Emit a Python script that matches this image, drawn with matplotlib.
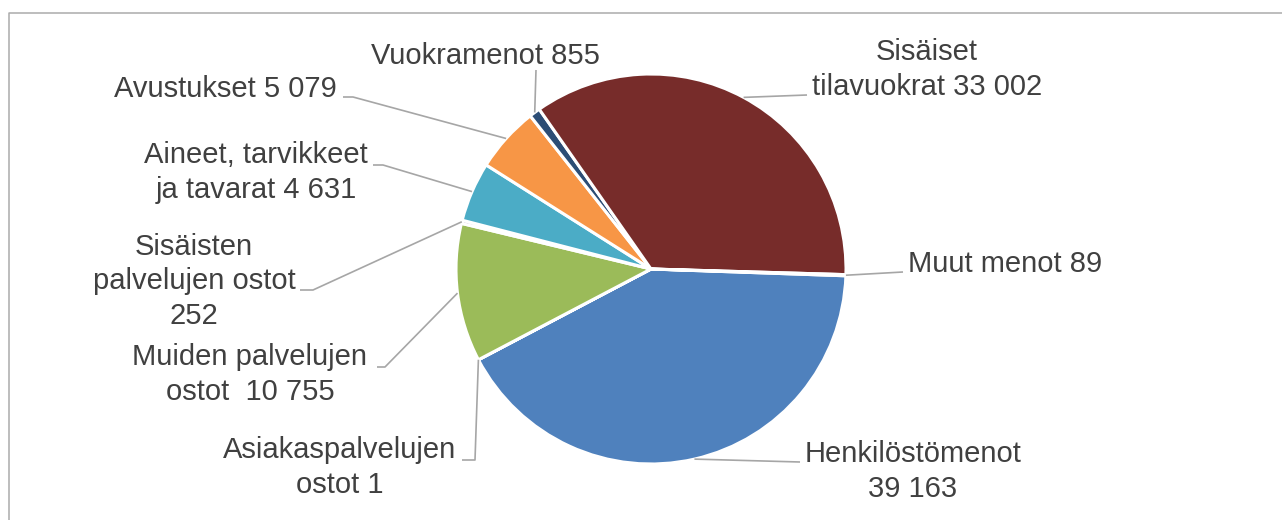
import numpy as np
import matplotlib
matplotlib.use("Agg")
from matplotlib import pyplot as plt

# menot (1000 €)
categories = ["Henkilöstömenot", "Asiakaspalvelujen ostot", "Muiden palvelujen ostot",
              "Sisäisten palvelujen ostot", "Aineet, tarvikkeet ja tavarat", "Avustukset",
              "Vuokramenot", "Sisäiset tilavuokrat", "Muut menot"]
values = [39163, 1, 10755, 252, 4631, 5079, 855, 33002, 89]
label_fmt = ["Henkilöstömenot\n{}", "Asiakaspalvelujen\nostot {}", "Muiden palvelujen\nostot  {}",
             "Sisäisten\npalvelujen ostot\n{}", "Aineet, tarvikkeet\nja tavarat {}", "Avustukset {}",
             "Vuokramenot {}", "Sisäiset\ntilavuokrat {}", "Muut menot {}"]
colors = ["#4F81BD", "#C0504D", "#9BBB59", "#8064A2", "#4BACC6", "#F79646",
          "#2C4D75", "#772C2A", "#5F7530"]

# tekstien paikat (x, viimeisen rivin baseline) ja viivojen taitepisteet, pikseleinä
text_pos = [(913, 497), (340, 493), (250, 400), (194, 324), (256, 198),
            (225, 97), (485, 64), (927, 95), (1005, 272)]
elbows = [[(800, 462)], [(462, 460), (475, 460)], [(377, 367), (385, 367)],
          [(300, 290), (313, 290)], [(373, 165), (383, 165)], [(343, 97), (353, 97)],
          [(536, 70)], [(807, 95)], [(903, 272)]]

plt.rcParams['font.family'] = ['Liberation Sans', 'DejaVu Sans']

fig = plt.figure(figsize=(12.82, 5.2), dpi=100)
ax = fig.add_axes([0, 0, 1, 1])

cx, cy, r = 651, 269, 195
wedges, _ = ax.pie(values, colors=colors, startangle=2, counterclock=True,
                   center=(cx, cy), radius=r,
                   wedgeprops=dict(edgecolor='white', linewidth=2.2))

ax.set_xlim(0, 1282)
ax.set_ylim(520, 0)
ax.set_aspect('equal')
ax.axis('off')

for w, v, fmt, (tx, ty), pts in zip(wedges, values, label_fmt, text_pos, elbows):
    ang = np.deg2rad((w.theta1 + w.theta2) / 2)
    ex, ey = cx + r * np.cos(ang), cy + r * np.sin(ang)
    xs = [p[0] for p in pts] + [ex]
    ys = [p[1] for p in pts] + [ey]
    ax.plot(xs, ys, color='#A6A6A6', lw=1.2, solid_capstyle='butt')
    txt = fmt.format(f"{v:,}".replace(",", " "))
    ax.text(tx, ty, txt, ha='center', va='baseline', multialignment='center',
            fontsize=21, color='#404040', linespacing=1.3)

# kehys
ax.plot([9, 9, 1290], [530, 13, 13], color='#ABABAB', lw=1.1, clip_on=False)

fig.savefig("out.png", dpi=100)
